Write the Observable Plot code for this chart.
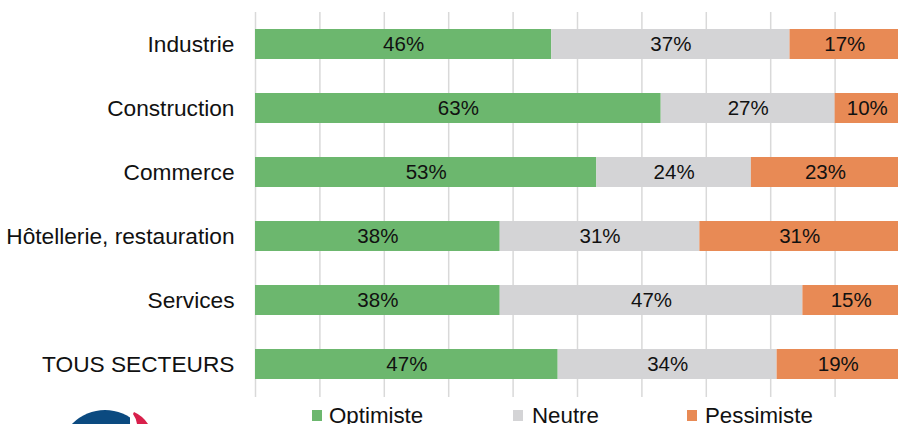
<!DOCTYPE html>
<html>
<head>
<meta charset="utf-8">
<script src="https://cdn.jsdelivr.net/npm/d3@7"></script>
<script src="https://cdn.jsdelivr.net/npm/@observablehq/plot@0.6"></script>
<style>
  html, body { margin: 0; padding: 0; background: #fff; overflow: hidden; }
  body { width: 898px; height: 424px; position: relative; font-family: "Liberation Sans", Arial, sans-serif; }
  #chart svg { display: block; }
  .leg { position: absolute; top: 403px; font-size: 22.3px; line-height: 26px; color: #111; white-space: nowrap; }
  .sw { position: absolute; width: 10px; height: 11px; top: 410px; }
</style>
</head>
<body>
<div id="chart"></div>
<script>
const sectors = ["Industrie", "Construction", "Commerce", "Hôtellerie, restauration", "Services", "TOUS SECTEURS"];
const optimiste = [46, 63, 53, 38, 38, 47];
const neutre = [37, 27, 24, 31, 47, 34];
const pessimiste = [17, 10, 23, 31, 15, 19];
const types = ["Optimiste", "Neutre", "Pessimiste"];
const colors = ["#6cb76e", "#d4d4d6", "#e88a55"];
const gridTicks = [0, 10, 20, 30, 40, 50, 60, 70, 80, 90, 100];

const series = [optimiste, neutre, pessimiste];
const data = [];
sectors.forEach((s, i) => {
  types.forEach((t, j) => data.push({sector: s, type: t, value: series[j][i]}));
});

const chart = Plot.plot({
  width: 898,
  height: 400,
  marginTop: 12,
  marginBottom: 3,
  marginLeft: 255,
  marginRight: 0,
  style: {fontFamily: "'Liberation Sans', Arial, sans-serif", background: "#fff", overflow: "hidden"},
  x: {domain: [0, 100], range: [255, 899], axis: null},
  y: {domain: sectors, paddingInner: 0.53, paddingOuter: 0.265, label: null},
  color: {domain: types, range: colors},
  marks: [
    Plot.ruleX(gridTicks, {stroke: "#d9d9d9", strokeWidth: 1.5}),
    Plot.barX(data, Plot.stackX({x: "value", y: "sector", fill: "type", order: types})),
    Plot.text(data, Plot.stackX({x: "value", y: "sector", z: "type", order: types, text: d => d.value + "%", fontSize: 20.5, fill: "#111"})),
    Plot.axisY({tickSize: 0, tickPadding: 21, fontSize: 22.7, label: null, color: "#111"})
  ]
});
document.getElementById("chart").appendChild(chart);

// Legend
const legendX = [{sw: 312, tx: 329}, {sw: 513, tx: 532}, {sw: 687, tx: 705}];
types.forEach((t, i) => {
  const sw = document.createElement("div");
  sw.className = "sw";
  sw.style.left = legendX[i].sw + "px";
  sw.style.background = colors[i];
  document.body.appendChild(sw);
  const lab = document.createElement("div");
  lab.className = "leg";
  lab.style.left = legendX[i].tx + "px";
  lab.textContent = t;
  document.body.appendChild(lab);
});
</script>
<svg width="120" height="24" style="position:absolute;left:50px;top:400px" aria-hidden="true">
  <defs><clipPath id="cl"><rect x="0" y="0" width="80" height="24"/></clipPath></defs>
  <circle cx="55" cy="56" r="46" fill="#0b4a80" clip-path="url(#cl)"/>
  <path d="M84,12 Q93,16 98,24 L87,24 Q86,18 83,14 Z" fill="#d8204b"/>
</svg>
</body>
</html>
